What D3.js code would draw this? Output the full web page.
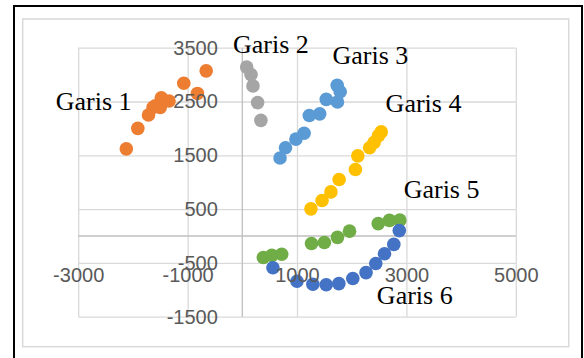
<!DOCTYPE html>
<html>
<head>
<meta charset="utf-8">
<script src="https://cdn.jsdelivr.net/npm/d3@7"></script>
<style>
  html, body { margin: 0; padding: 0; background: #fff; }
  svg { display: block; }
</style>
</head>
<body>
<svg id="chart" width="584" height="358"></svg>
<script>
// Six point series ("Garis" = line) on a shared x/y plane
const seriesNames = ["Garis 1", "Garis 2", "Garis 3", "Garis 4", "Garis 5", "Garis 6"];
const seriesColors = ["#ED7D31", "#A5A5A5", "#5B9BD5", "#FFC000", "#70AD47", "#4472C4"];

const garis1 = [[-2120,1620],[-1910,2000],[-1715,2250],[-1630,2390],[-1590,2420],[-1480,2570],[-1500,2390],[-1340,2510],[-1070,2840],[-820,2650],[-660,3070]];
const garis2 = [[80,3140],[160,3000],[195,2790],[280,2480],[340,2150]];
const garis3 = [[690,1450],[790,1640],[980,1800],[1130,1910],[1225,2240],[1415,2270],[1535,2540],[1735,2800],[1790,2680],[1740,2490]];
const garis4 = [[1255,505],[1458,660],[1620,820],[1770,1050],[2068,1235],[2112,1490],[2328,1640],[2410,1740],[2490,1865],[2540,1935]];
const garis5 = [[385,-400],[540,-360],[720,-340],[1265,-140],[1500,-120],[1740,-25],[1960,90],[2485,230],[2690,290],[2880,295]];
const garis6 = [[560,-590],[1000,-840],[1290,-898],[1534,-905],[1765,-885],[2020,-790],[2262,-680],[2440,-510],[2600,-330],[2770,-155],[2870,100]];
const seriesData = [garis1, garis2, garis3, garis4, garis5, garis6];

// Tick values for the two axes
const xTicks = [-3000, -1000, 1000, 3000, 5000];
const yTicks = [-1500, -500, 500, 1500, 2500, 3500];

// Series label anchor points (data units)
const labelPos = [[-3410,2340],[-170,3410],[1650,3190],[2620,2300],[2950,700],[2460,-1270]];

const svg = d3.select("#chart");

// Outer frame and chart-area border
svg.append("rect").attr("x", 14).attr("y", 6).attr("width", 568).attr("height", 360)
  .attr("fill", "none").attr("stroke", "#000").attr("stroke-width", 2);
svg.append("rect").attr("x", 22.7).attr("y", 19).attr("width", 546).attr("height", 327.7)
  .attr("fill", "none").attr("stroke", "#d9d9d9").attr("stroke-width", 1.5);

const x = d3.scaleLinear().domain([-3000, 5000]).range([78.2, 515.8]);
const y = d3.scaleLinear().domain([-1500, 3500]).range([316.7, 47.7]);

const gridColor = "#d9d9d9";
const axisColor = "#bfbfbf";

// Gridlines
const gx = svg.append("g").attr("transform", `translate(0,${y(-1500)})`)
  .call(d3.axisBottom(x).tickValues(xTicks).tickSize(-(y(-1500) - y(3500))).tickFormat(""));
gx.select(".domain").remove();
gx.selectAll("line").attr("stroke", gridColor).attr("stroke-width", 1.3);

const gy = svg.append("g").attr("transform", `translate(${x(-3000)},0)`)
  .call(d3.axisLeft(y).tickValues(yTicks).tickSize(-(x(5000) - x(-3000))).tickFormat(""));
gy.select(".domain").remove();
gy.selectAll("line").attr("stroke", gridColor).attr("stroke-width", 1.3);

// Axis lines through the origin
svg.append("line").attr("x1", x(-3000)).attr("x2", x(5000)).attr("y1", y(0)).attr("y2", y(0))
  .attr("stroke", axisColor).attr("stroke-width", 1.3);
svg.append("line").attr("x1", x(0)).attr("x2", x(0)).attr("y1", y(3500)).attr("y2", y(-1500))
  .attr("stroke", axisColor).attr("stroke-width", 1.3);

// Points
seriesData.forEach((pts, i) => {
  svg.append("g").selectAll("circle").data(pts).join("circle")
    .attr("cx", d => x(d[0])).attr("cy", d => y(d[1])).attr("r", 6.8)
    .attr("fill", seriesColors[i]);
});

// Tick labels (drawn over the points), plain hyphen for negatives
const fmt = d => String(d);
const fontAxis = "'Liberation Sans', Arial, sans-serif";
const ax = svg.append("g").attr("transform", `translate(0,${y(0)})`)
  .call(d3.axisBottom(x).tickValues(xTicks).tickSize(0).tickPadding(32).tickFormat(fmt));
ax.select(".domain").remove();
ax.selectAll("text").attr("fill", "#595959").attr("font-family", fontAxis).attr("font-size", 20);

const ay = svg.append("g").attr("transform", `translate(${x(0)},0)`)
  .call(d3.axisLeft(y).tickValues(yTicks).tickSize(0).tickPadding(24.5).tickFormat(fmt));
ay.select(".domain").remove();
ay.selectAll("text").attr("fill", "#595959").attr("font-family", fontAxis).attr("font-size", 20);

// Series labels
svg.append("g").selectAll("text").data(seriesNames).join("text")
  .attr("x", (d, i) => x(labelPos[i][0])).attr("y", (d, i) => y(labelPos[i][1]))
  .attr("font-family", "'Liberation Serif', 'Times New Roman', serif")
  .attr("font-size", 26).attr("fill", "#000")
  .text(d => d);
</script>
</body>
</html>
